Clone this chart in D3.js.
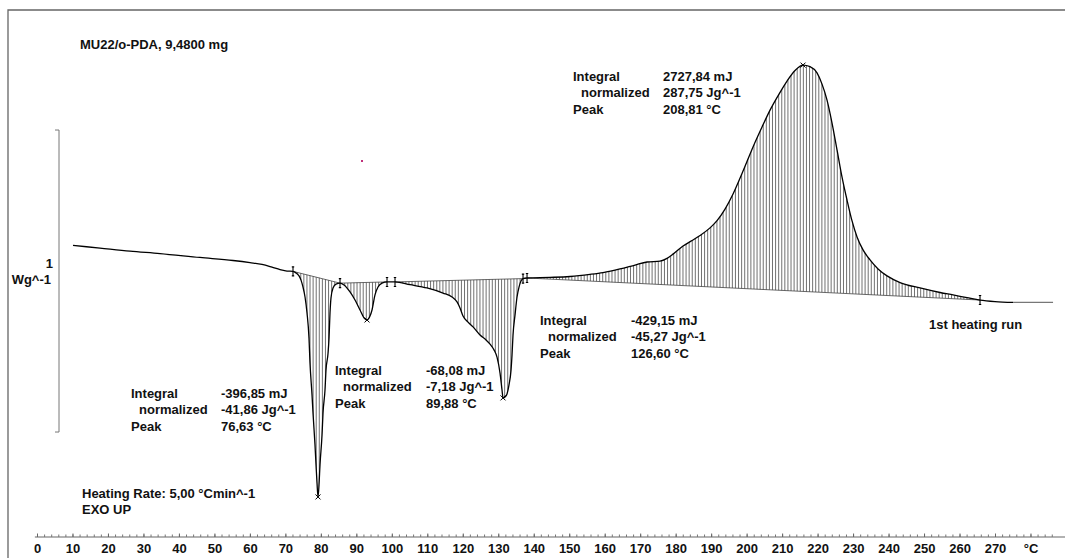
<!DOCTYPE html>
<html>
<head>
<meta charset="utf-8">
<script src="https://cdn.jsdelivr.net/npm/d3@7"></script>
<style>
    body { margin: 0; background: #fff; }
    svg { display: block; }
    text { font-family: "Liberation Sans", Arial, sans-serif; font-weight: bold; font-size: 13px; fill: #111; }
</style>
</head>
<body>
<div id="chart"></div>
<script>
// DSC trace, x in °C (axis units), heat flow in W/g (arbitrary zero)
const temperature = [
    10.15, 17.76, 26.21, 34.67, 45.94, 55.24, 60.03, 63.42, 66.23, 68.49, 70.46, 72.15,
    73.00, 73.85, 74.41, 74.97, 75.54, 76.10, 76.66, 76.94, 77.51, 77.79, 78.35, 78.64, 78.92, 79.20,
    79.48, 79.76, 80.33, 80.61, 81.17, 81.45, 82.02, 82.30, 82.58, 82.86, 83.43, 84.27, 85.40,
    86.53, 88.22, 89.63, 91.04, 92.16, 93.01, 93.85, 94.42, 95.26, 96.11, 97.24, 98.65, 100.90,
    105.13, 109.92, 114.43, 116.97, 118.38, 119.22, 120.07, 121.48, 122.89, 124.86, 126.55, 127.68,
    128.80, 129.65, 130.50, 131.06, 131.34, 131.91, 132.47, 133.03, 133.60, 133.88, 134.16, 134.72,
    135.29, 135.85, 136.41, 136.98, 138.11,
    144.59, 150.23, 155.86, 159.53, 164.32, 168.55, 171.93, 175.59, 177.56, 179.26, 182.07, 184.61,
    186.87, 189.68, 191.66, 193.91, 196.17, 198.99, 201.80, 204.34, 206.60, 209.13, 211.39, 213.64,
    215.90, 217.87, 219.84, 221.25, 222.66, 224.07, 225.48, 226.89, 228.30, 229.71, 231.12, 232.81,
    234.78, 237.04, 239.57, 243.24, 248.87, 254.51, 258.17, 262.12, 265.78, 270.01, 275.08
];
const heatFlow = [
    0.108, 0.099, 0.089, 0.081, 0.068, 0.058, 0.051, 0.045, 0.036, 0.028, 0.023, 0.022,
    0.017, 0.007, -0.007, -0.030, -0.063, -0.116, -0.199, -0.281, -0.387, -0.447, -0.553, -0.619, -0.679, -0.725,
    -0.685, -0.619, -0.520, -0.447, -0.371, -0.305, -0.250, -0.200, -0.116, -0.066, -0.033, -0.020, -0.017,
    -0.023, -0.046, -0.073, -0.106, -0.132, -0.139, -0.126, -0.106, -0.056, -0.030, -0.017, -0.013, -0.013,
    -0.022, -0.033, -0.050, -0.063, -0.079, -0.099, -0.126, -0.146, -0.162, -0.189, -0.205, -0.219,
    -0.238, -0.262, -0.315, -0.371, -0.397, -0.394, -0.384, -0.354, -0.305, -0.255, -0.189, -0.123,
    -0.063, -0.030, -0.010, -0.002, 0.000,
    0.002, 0.005, 0.012, 0.018, 0.030, 0.043, 0.053, 0.056, 0.065, 0.079, 0.106, 0.124,
    0.141, 0.166, 0.190, 0.228, 0.278, 0.354, 0.434, 0.500, 0.556, 0.609, 0.652, 0.687,
    0.705, 0.700, 0.679, 0.642, 0.589, 0.513, 0.424, 0.334, 0.258, 0.189, 0.136, 0.093,
    0.060, 0.030, 0.007, -0.015, -0.033, -0.048, -0.056, -0.065, -0.073, -0.078, -0.081
];
// flat grey end of the run
const tailTemperature = [275.08, 286.36];
const tailHeatFlow = [-0.081, -0.081];

// integration limits and peak positions (axis units)
const peakStart = [72.15, 85.40, 100.90, 138.11];
const peakEnd = [85.40, 98.65, 136.98, 265.78];
const peakAt = [79.20, 93.01, 131.34, 215.90];

const integralText = ["-396,85 mJ", "-68,08 mJ", "-429,15 mJ", "2727,84 mJ"];
const normalizedText = ["-41,86 Jg^-1", "-7,18 Jg^-1", "-45,27 Jg^-1", "287,75 Jg^-1"];
const peakText = ["76,63 °C", "89,88 °C", "126,60 °C", "208,81 °C"];

const tickLabels = ["0", "10", "20", "30", "40", "50", "60", "70", "80", "90", "100", "110", "120", "130",
    "140", "150", "160", "170", "180", "190", "200", "210", "220", "230", "240", "250", "260", "270", "°C"];

const width = 1065;
const height = 558;

const svg = d3.select("#chart").append("svg")
    .attr("width", width)
    .attr("height", height);

const x = d3.scaleLinear().domain([0, 270]).range([37, 995]);
const y = d3.scaleLinear().domain([0, 1]).range([278, -24]);

// frame (top + left only)
svg.append("path")
    .attr("d", `M8,${height}V10H${width}`)
    .attr("fill", "none")
    .attr("stroke", "#666")
    .attr("stroke-width", 1.3);

// heat flow value at a temperature (linear between samples)
function flowAt(t) {
    const i = d3.bisectLeft(temperature, t);
    if (i <= 0) return heatFlow[0];
    if (i >= temperature.length) return heatFlow[heatFlow.length - 1];
    const t0 = temperature[i - 1], t1 = temperature[i];
    const f = (t - t0) / (t1 - t0);
    return heatFlow[i - 1] + f * (heatFlow[i] - heatFlow[i - 1]);
}

const points = temperature.map((t, i) => [t, heatFlow[i]]);
const curve = d3.curveMonotoneX;

// hatched integration areas
const defs = svg.append("defs");
const hatchGroup = svg.append("g").attr("class", "hatch");

peakStart.forEach((t0, k) => {
    const t1 = peakEnd[k];
    const b0 = flowAt(t0), b1 = flowAt(t1);
    const base = t => b0 + (b1 - b0) * (t - t0) / (t1 - t0);
    const inside = points.filter(d => d[0] > t0 && d[0] < t1);
    const seg = [[t0, b0], ...inside, [t1, b1]];

    const area = d3.area()
        .x(d => x(d[0]))
        .y0(d => y(base(d[0])))
        .y1(d => y(d[1]))
        .curve(curve);

    defs.append("clipPath")
        .attr("id", "peak-clip-" + k)
        .append("path")
        .attr("d", area(seg));

    hatchGroup.append("g")
        .attr("clip-path", `url(#peak-clip-${k})`)
        .selectAll("line")
        .data(d3.range(t0 + 0.45, t1, 0.87))
        .enter()
        .append("line")
        .attr("x1", d => x(d)).attr("x2", d => x(d))
        .attr("y1", 0).attr("y2", height)
        .attr("stroke", "#333")
        .attr("stroke-width", 0.7);

    // straight integration baseline
    svg.append("line")
        .attr("x1", x(t0)).attr("y1", y(b0))
        .attr("x2", x(t1)).attr("y2", y(b1))
        .attr("stroke", "#444")
        .attr("stroke-width", 0.8);
});

// measured curve
const line = d3.line()
    .x(d => x(d[0]))
    .y(d => y(d[1]))
    .curve(curve);

svg.append("path")
    .datum(points)
    .attr("d", line)
    .attr("fill", "none")
    .attr("stroke", "#000")
    .attr("stroke-width", 1.3);

svg.append("path")
    .datum(tailTemperature.map((t, i) => [t, tailHeatFlow[i]]))
    .attr("d", d3.line().x(d => x(d[0])).y(d => y(d[1])))
    .attr("fill", "none")
    .attr("stroke", "#777")
    .attr("stroke-width", 1.3);

// limit markers: short vertical bar with serifs
const limits = Array.from(new Set([...peakStart, ...peakEnd]));
const limitG = svg.append("g").attr("stroke", "#000").attr("stroke-width", 1.1).attr("fill", "none");
limits.forEach(t => {
    const px = x(t), py = y(flowAt(t));
    limitG.append("path")
        .attr("d", `M${px},${py - 4.5}V${py + 4.5}M${px - 1.2},${py - 4.5}H${px + 1.2}M${px - 1.2},${py + 4.5}H${px + 1.2}`);
});

// peak markers: small x
peakAt.forEach(t => {
    const px = x(t), py = y(flowAt(t));
    limitG.append("path")
        .attr("d", `M${px - 2.5},${py - 2.5}L${px + 2.5},${py + 2.5}M${px + 2.5},${py - 2.5}L${px - 2.5},${py + 2.5}`)
        .attr("stroke-width", 1);
});

// x axis: minor + major ticks pointing up, labels below
const axisY = 537;
svg.append("line")
    .attr("x1", x(-0.6)).attr("x2", width)
    .attr("y1", axisY).attr("y2", axisY)
    .attr("stroke", "#666")
    .attr("stroke-width", 1.2);

const minor = svg.append("g")
    .attr("transform", `translate(0,${axisY})`)
    .call(d3.axisBottom(x).tickValues(d3.range(0, 288, 2)).tickSize(-2.5).tickFormat(""));
minor.select(".domain").remove();
minor.selectAll("line").attr("stroke", "#777");

const major = svg.append("g")
    .attr("transform", `translate(0,${axisY})`)
    .call(d3.axisBottom(x)
        .tickValues(tickLabels.map((d, i) => i * 10))
        .tickSize(-3.5)
        .tickPadding(7)
        .tickFormat((d, i) => tickLabels[i]));
major.select(".domain").remove();
major.selectAll("line").attr("stroke", "#666");
major.selectAll("text")
    .attr("font-family", "Liberation Sans, Arial, sans-serif")
    .attr("font-size", 13)
    .attr("font-weight", "bold")
    .attr("fill", "#111");

// 1 W/g scale bar
const barTop = y(0.49), barBottom = y(-0.51);
svg.append("path")
    .attr("d", `M55,${barTop}H59V${barBottom}H55`)
    .attr("fill", "none")
    .attr("stroke", "#777")
    .attr("stroke-width", 1);

svg.append("text").attr("x", 53).attr("y", 268).attr("text-anchor", "end").text("1");
svg.append("text").attr("x", 51).attr("y", 284).attr("text-anchor", "end").text("Wg^-1");

// header and notes
svg.append("text").attr("x", 80).attr("y", 49).text("MU22/o-PDA, 9,4800 mg");
svg.append("text").attr("x", 82).attr("y", 498).text("Heating Rate: 5,00 °Cmin^-1");
svg.append("text").attr("x", 82).attr("y", 514).text("EXO UP");
svg.append("text").attr("x", 929).attr("y", 329).text("1st heating run");

// stray pink dot
svg.append("rect").attr("x", 361).attr("y", 160).attr("width", 2).attr("height", 2).attr("fill", "#c0307a");

// result blocks (label column x, value column x, first row y)
const blocks = [
    { lx: 131, vx: 221, ty: 398 },
    { lx: 335, vx: 426, ty: 375 },
    { lx: 540, vx: 631, ty: 325 },
    { lx: 573, vx: 663, ty: 81 }
];
blocks.forEach((b, k) => {
    const g = svg.append("g");
    const rows = [
        ["Integral", integralText[k], 0],
        ["normalized", normalizedText[k], 8],
        ["Peak", peakText[k], 0]
    ];
    rows.forEach((r, j) => {
        g.append("text").attr("x", b.lx + r[2]).attr("y", b.ty + j * 16.3).text(r[0]);
        g.append("text").attr("x", b.vx).attr("y", b.ty + j * 16.3).text(r[1]);
    });
});
</script>
</body>
</html>
